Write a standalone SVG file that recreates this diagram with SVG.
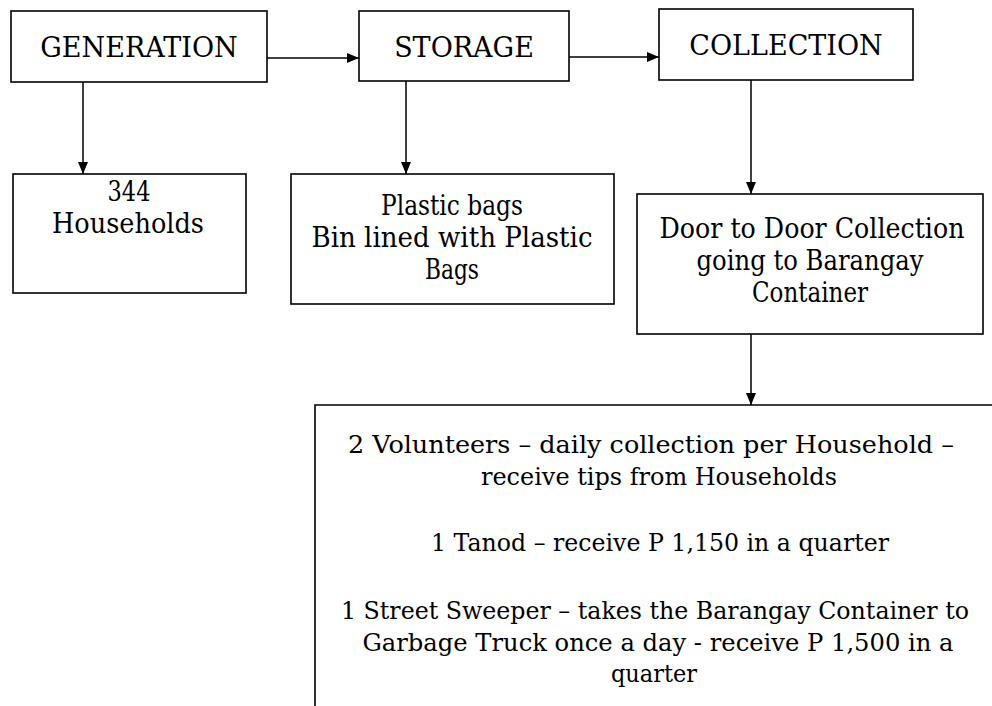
<svg xmlns="http://www.w3.org/2000/svg" width="992" height="706" viewBox="0 0 992 706">
<style>
.box{fill:#fff;stroke:#000;stroke-width:1.6}
.t{font-family:'DejaVu Serif','Liberation Serif',serif;font-size:27px;fill:#000;text-anchor:middle}
.b{font-size:25px}
.c{stroke:#000;stroke-width:1.5;fill:none;marker-end:url(#ah)}
</style>
<defs>
<marker id="ah" viewBox="0 0 12 10" refX="12" refY="5" markerWidth="12" markerHeight="10" markerUnits="userSpaceOnUse" orient="auto">
<path d="M0,0 L12,5 L0,10 Z" fill="#000"/>
</marker>
</defs>
<rect width="992" height="706" fill="#fff"/>
<g id="connectors">
<line class="c" x1="267" y1="58" x2="359" y2="58"/>
<line class="c" x1="569" y1="57" x2="659" y2="57"/>
<line class="c" x1="83" y1="82" x2="83" y2="174"/>
<line class="c" x1="406" y1="81" x2="406" y2="174"/>
<line class="c" x1="751" y1="80" x2="751" y2="194"/>
<line class="c" x1="751" y1="334" x2="751" y2="405"/>
</g>
<g id="generation">
<rect class="box" x="11" y="11" width="256" height="71"/>
<text class="t" x="139" y="57">GENERATION</text>
</g>
<g id="storage">
<rect class="box" x="359" y="11" width="210" height="70"/>
<text class="t" x="464" y="57">STORAGE</text>
</g>
<g id="collection">
<rect class="box" x="659" y="9" width="254" height="71"/>
<text class="t" x="786" y="55">COLLECTION</text>
</g>
<g id="households">
<rect class="box" x="13" y="174" width="233" height="119"/>
<text class="t" x="129" y="201" textLength="43" lengthAdjust="spacingAndGlyphs">344</text>
<text class="t" x="128" y="233" textLength="152" lengthAdjust="spacingAndGlyphs">Households</text>
</g>
<g id="storage-detail">
<rect class="box" x="291" y="174" width="323" height="130"/>
<text class="t" x="452" y="215" textLength="142" lengthAdjust="spacingAndGlyphs">Plastic bags</text>
<text class="t" x="452" y="247" textLength="281" lengthAdjust="spacingAndGlyphs">Bin lined with Plastic</text>
<text class="t" x="452" y="279" textLength="54" lengthAdjust="spacingAndGlyphs">Bags</text>
</g>
<g id="door">
<rect class="box" x="637" y="194" width="346" height="140"/>
<text class="t" x="812" y="238" textLength="305" lengthAdjust="spacingAndGlyphs">Door to Door Collection</text>
<text class="t" x="810" y="270" textLength="227" lengthAdjust="spacingAndGlyphs">going to Barangay</text>
<text class="t" x="810" y="302" textLength="116" lengthAdjust="spacingAndGlyphs">Container</text>
</g>
<g id="personnel">
<path d="M315,706 V405 H992" fill="none" stroke="#000" stroke-width="1.6"/>
<text class="t b" x="651" y="453" textLength="606" lengthAdjust="spacingAndGlyphs">2 Volunteers – daily collection per Household –</text>
<text class="t b" x="659" y="485" textLength="356" lengthAdjust="spacingAndGlyphs">receive tips from Households</text>
<text class="t b" x="660" y="551" textLength="458" lengthAdjust="spacingAndGlyphs">1 Tanod – receive P 1,150 in a quarter</text>
<text class="t" x="655" y="619" style="font-size:24px" textLength="628" lengthAdjust="spacingAndGlyphs">1 Street Sweeper – takes the Barangay Container to</text>
<text class="t b" x="658" y="651" textLength="591" lengthAdjust="spacingAndGlyphs">Garbage Truck once a day - receive P 1,500 in a</text>
<text class="t b" x="654" y="682" textLength="86" lengthAdjust="spacingAndGlyphs">quarter</text>
</g>
</svg>
